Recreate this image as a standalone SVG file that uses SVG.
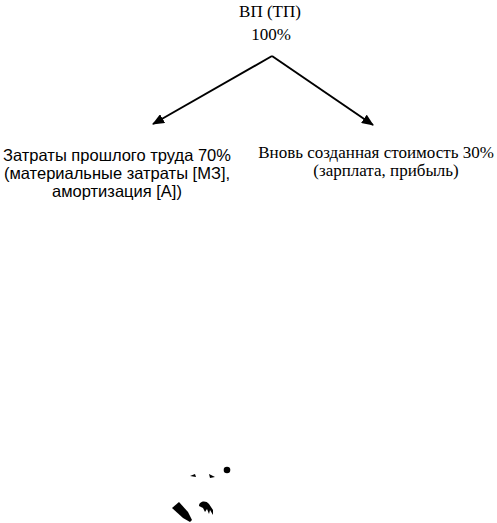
<svg xmlns="http://www.w3.org/2000/svg" width="497" height="523" viewBox="0 0 497 523">
<style>
.t{font-family:"Liberation Serif","Times New Roman",serif;font-size:17px;fill:#000}
.s{font-family:"Liberation Sans",Arial,sans-serif;font-size:16.5px;fill:#000}
.c{stroke:#000;stroke-width:2;fill:none}
</style>
<defs>
<marker id="ah" viewBox="0 0 12 10" refX="11" refY="5" markerWidth="12" markerHeight="10" orient="auto" markerUnits="userSpaceOnUse">
<path d="M0,0 L12,5 L0,10 z" fill="#000"/>
</marker>
</defs>
<rect width="497" height="523" fill="#fff"/>
<g id="top">
<text class="t" x="270" y="17" text-anchor="middle">ВП (ТП)</text>
<text class="t" x="271" y="40" text-anchor="middle">100%</text>
</g>
<g id="connectors">
<path class="c" d="M272,56 L153,124" marker-end="url(#ah)"/>
<path class="c" d="M272,56 L373,125" marker-end="url(#ah)"/>
</g>
<g id="left">
<text class="s" x="117" y="161" text-anchor="middle">Затраты прошлого труда 70%</text>
<text class="s" x="117" y="179" text-anchor="middle">(материальные затраты [МЗ],</text>
<text class="s" x="117" y="197" text-anchor="middle">амортизация [А])</text>
</g>
<g id="right">
<text class="t" x="376" y="158" text-anchor="middle">Вновь созданная стоимость 30%</text>
<text class="t" x="386" y="176" text-anchor="middle">(зарплата, прибыль)</text>
</g>
<g id="marks" fill="#000">
<circle cx="227" cy="470" r="3.3"/>
<path d="M190,476 L195,474 L196,477 z"/>
<path d="M209,474 L215,477 L210,478 z"/>
<path d="M172,508 L179,502 L188,512 L192,520 L190,522 L183,518 z"/>
<path d="M199,506 C199,501 206,500 209,504 L213,510 L213,515 L210,510 L209,514 L207,509 L205,512 L203,508 z"/>
</g>
</svg>
